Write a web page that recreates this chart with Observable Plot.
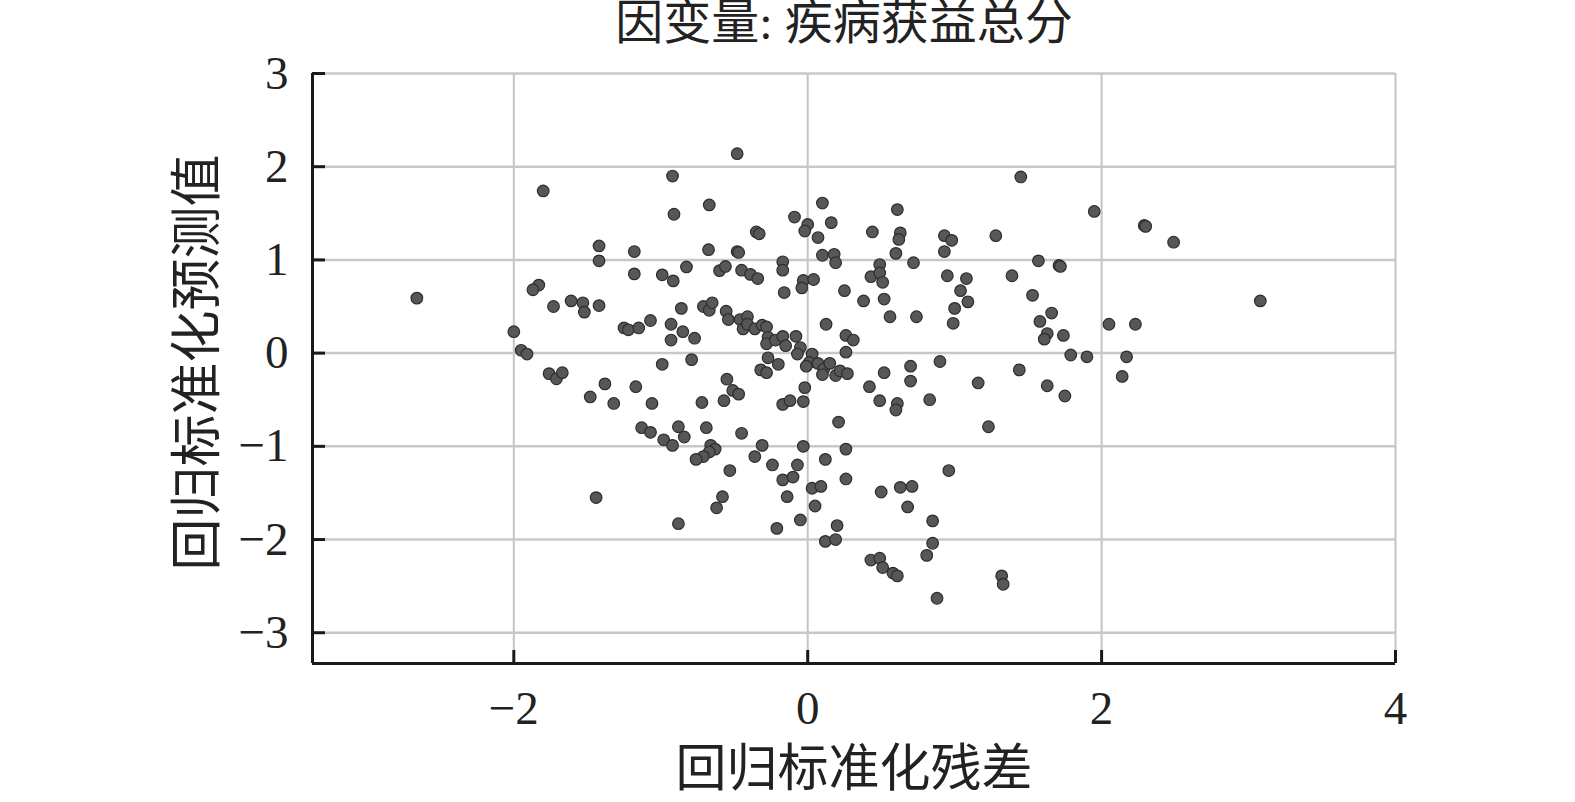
<!DOCTYPE html>
<html>
<head>
<meta charset="utf-8">
<script src="https://cdn.jsdelivr.net/npm/d3@7"></script>
<script src="https://cdn.jsdelivr.net/npm/@observablehq/plot@0.6"></script>
<style>
  html, body { margin: 0; padding: 0; background: #fff; }
  #title { width: 1575px; box-sizing: border-box; padding-left: 113px; height: 46px; line-height: 46px;
           text-align: center; font-family: "Liberation Serif", "Noto Sans CJK SC", serif; font-size: 48px; color: #222; }
</style>
</head>
<body>
<div id="title">因变量: 疾病获益总分</div>
<div id="chart"></div>
<script>
const titleText = "因变量: 疾病获益总分";
const xLabel = "回归标准化残差";
const yLabel = "回归标准化预测值";
const xTicks = [-2, 0, 2, 4];
const yTicks = [-3, -2, -1, 0, 1, 2, 3];
const xDomain = [-3.37, 4];
const yDomain = [-3.33, 3];

// 回归标准化残差 (x) and 回归标准化预测值 (y)
const resid = [
 -2.66,-1.80,-0.92,-0.67,-0.91,-0.675,-1.42,-1.42,-1.18,-1.18,-0.99,-0.915,-0.825,-0.60,-0.56,-1.83,-1.87,-1.73,-1.61,-1.53,
 -1.52,-1.42,-1.25,-1.22,-1.15,-1.07,-0.93,-0.93,-0.85,-0.77,-0.86,-0.71,-0.67,-0.65,-2.0,-1.95,-1.91,-0.99,-0.79,
 -1.76,-1.71,-1.67,-1.48,-1.38,-1.32,-1.17,-1.06,-0.72,-1.13,-1.07,-0.98,-0.92,-0.88,-0.84,-0.69,-0.66,-0.63,-0.67,-0.71,-0.76,-1.44,-0.88,
 -0.05,-0.07,0.03,0.01,-0.01,0.07,0.11,0.15,0.10,0.19,0.22,0.27,0.26,-0.27,-0.20,-0.32,-0.28,-0.55,-0.51,-0.47,-0.57,-0.45,
 -0.31,-0.36,-0.24,-0.17,-0.10,-0.07,-0.03,-0.53,-0.58,-0.62,-0.14,-0.21,-0.05,-0.17,-0.12,-0.03,-0.02,0.21,0.26,0.12,0.26,0.03,
 0.09,0.05,0.20,0.12,0.19,0.42,0.52,0.49,0.61,0.60,0.70,0.70,0.83,0.90,0.50,0.63,0.71,0.68,0.85,0.85,0.81,0.43,0.49,0.51,
 0.58,0.61,0.88,0.96,1.23,1.16,1.44,1.63,1.75,1.79,1.90,1.32,1.33,2.17,2.14,
 -0.48,-0.48,-0.47,-0.45,-0.39,-0.34,-0.35,-0.33,-0.17,-0.17,-0.16,-0.09,0.0,-0.02,0.07,0.10,0.16,0.10,0.18,0.19,
 -0.03,0.04,-0.04,0.25,0.38,0.44,0.43,0.49,0.49,0.51,0.52,0.56,0.61,0.63,0.62,0.60,0.72,0.74,0.125,0.26,0.31,
 0.93,0.98,0.93,0.95,1.08,1.04,1.00,1.09,0.99,1.28,1.45,1.95,1.39,1.57,1.71,1.72,1.53,1.66,1.58,1.63,1.61,1.74,2.05,
 -0.555,-0.54,-0.46,-0.44,-0.41,-0.41,-0.36,-0.31,-0.28,-0.27,-0.28,-0.22,-0.17,-0.15,-0.08,
 2.29,2.30,2.49,3.08,2.23
];
const pred = [
 0.59,1.74,1.90,1.59,1.49,1.11,1.15,0.99,1.09,0.85,0.84,0.775,0.925,0.885,0.93,0.73,0.68,0.50,0.56,0.54,
 0.44,0.51,0.27,0.25,0.27,0.35,0.31,0.14,0.23,0.16,0.48,0.50,0.46,0.54,0.23,0.03,-0.01,-0.12,-0.07,
 -0.22,-0.275,-0.21,-0.47,-0.33,-0.54,-0.36,-0.54,-0.53,-0.80,-0.85,-0.93,-0.99,-0.79,-0.90,-0.80,-0.99,-1.03,-1.06,-1.11,-1.14,-1.55,-1.83,
 0.06,-0.01,-0.01,-0.10,-0.14,-0.11,-0.17,-0.11,-0.23,-0.24,-0.19,-0.22,0.01,-0.05,-0.12,-0.18,-0.21,-0.28,-0.40,-0.44,-0.51,-0.86,
 -0.99,-1.11,-1.20,-1.36,-1.33,-1.20,-1.00,-1.26,-1.54,-1.66,-1.54,-1.88,-1.79,-0.55,-0.51,-0.52,-0.37,-0.74,-1.03,-1.14,-1.35,-1.45,
 -1.43,-1.64,-1.85,-2.02,-2.00,-0.36,-0.21,-0.51,-0.54,-0.61,-0.14,-0.30,-0.50,-0.09,-1.49,-1.44,-1.43,-1.65,-1.80,-2.04,-2.17,-2.22,-2.20,-2.30,
 -2.36,-2.39,-2.63,-1.26,-0.79,-0.32,-0.18,-0.35,-0.46,-0.02,-0.04,-2.39,-2.48,-0.04,-0.25,
 2.14,1.09,1.08,0.89,0.845,0.80,1.30,1.28,0.98,0.89,0.65,1.46,1.38,1.31,1.24,1.61,1.40,1.05,1.06,0.97,
 0.78,0.79,0.70,0.67,0.56,1.30,0.82,0.95,0.86,0.76,0.58,0.39,1.54,1.29,1.22,1.07,0.97,0.39,0.31,0.19,0.14,
 1.26,1.21,1.09,0.83,0.80,0.67,0.48,0.55,0.32,1.26,1.89,1.52,0.83,0.99,0.94,0.93,0.62,0.43,0.34,0.21,0.15,0.19,0.31,
 0.45,0.36,0.36,0.26,0.39,0.31,0.26,0.30,0.28,0.17,0.10,0.14,0.18,0.08,0.18,
 1.37,1.36,1.19,0.56,0.31
];

const points = resid.map((r, i) => ({resid: r, pred: pred[i]}));
const serif = "Liberation Serif, Times New Roman, serif";
const cjk = "Noto Sans CJK SC, sans-serif";
const fmt = d => (d < 0 ? "\u2212" + Math.abs(d) : String(d));

const chart = Plot.plot({
  width: 1575,
  height: 756,
  marginTop: 27,
  marginBottom: 139,
  marginLeft: 312,
  marginRight: 180,
  style: {fontFamily: serif, background: "#fff", color: "#222"},
  x: {domain: xDomain, ticks: xTicks, tickFormat: fmt},
  y: {domain: yDomain, ticks: yTicks, tickFormat: fmt},
  marks: [
    Plot.gridX(xTicks, {stroke: "#c4c4c4", strokeOpacity: 1, strokeWidth: 2}),
    Plot.gridY(yTicks, {stroke: "#c8c8c8", strokeOpacity: 1, strokeWidth: 2.5}),
    Plot.dot(points, {x: "resid", y: "pred", r: 5.8, fill: "#575757", stroke: "#2e2e2e", strokeWidth: 1.2, fillOpacity: 1}),
    Plot.ruleX([xDomain[0]], {stroke: "#1a1a1a", strokeWidth: 3}),
    Plot.ruleY([yDomain[0]], {stroke: "#1a1a1a", strokeWidth: 3}),
    Plot.ruleY(yTicks, {y: d => d, x1: xDomain[0], x2: xDomain[0], insetRight: -13, stroke: "#1a1a1a", strokeWidth: 3}),
    Plot.ruleX(xTicks, {x: d => d, y1: yDomain[0], y2: yDomain[0], insetBottom: 13, stroke: "#1a1a1a", strokeWidth: 3}),
    Plot.axisY(yTicks, {tickSize: 0, tickPadding: 24, fontSize: 47, fontFamily: serif, label: null, tickFormat: fmt}),
    Plot.axisX(xTicks, {tickSize: 0, tickPadding: 27, fontSize: 47, fontFamily: serif, label: null, tickFormat: fmt}),
    Plot.text([xLabel], {frameAnchor: "bottom", textAnchor: "middle", dy: 122, fontSize: 51, fontFamily: cjk, fill: "#222"}),
    Plot.text([yLabel], {frameAnchor: "left", textAnchor: "middle", dx: -114, dy: -6, rotate: -90, fontSize: 52, fontFamily: cjk, fill: "#222"})
  ]
});
document.getElementById("chart").appendChild(chart);
</script>
</body>
</html>
